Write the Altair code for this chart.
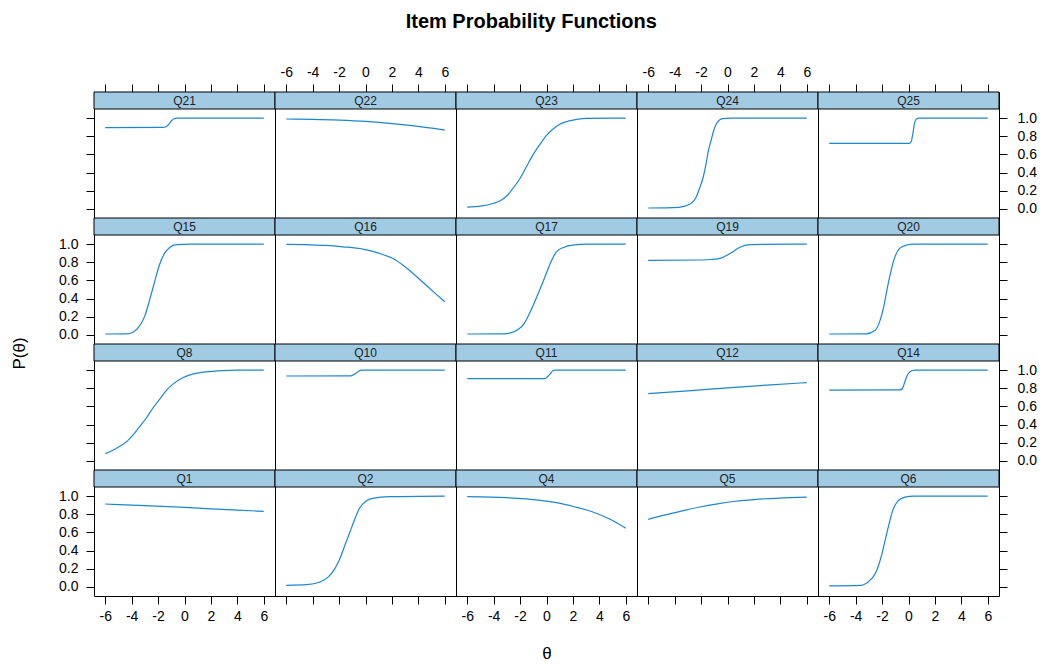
import altair as alt
import pandas as pd

# ---------------- data ----------------
theta_ticks = [-6, -4, -2, 0, 2, 4, 6]
prob_ticks = [0.0, 0.2, 0.4, 0.6, 0.8, 1.0]

panel_rows = [
    ["Q21", "Q22", "Q23", "Q24", "Q25"],
    ["Q15", "Q16", "Q17", "Q19", "Q20"],
    ["Q8", "Q10", "Q11", "Q12", "Q14"],
    ["Q1", "Q2", "Q4", "Q5", "Q6"],
]

Q21_theta = [-6, -1.6, -1.4, -1.2, -1.0, -0.8, -0.6, 6]
Q21_p = [0.895, 0.897, 0.905, 0.928, 0.968, 0.993, 1.0, 1.0]

Q22_theta = [-6, -4, -2, 0, 1, 2, 3, 4, 5, 6]
Q22_p = [0.99, 0.986, 0.978, 0.964, 0.953, 0.94, 0.925, 0.908, 0.89, 0.868]

Q23_theta = [-6, -5, -4, -3.5, -3, -2.5, -2, -1.5, -1, -0.5, 0, 0.5, 1, 1.5, 2, 3, 6]
Q23_p = [0.02, 0.03, 0.062, 0.09, 0.145, 0.233, 0.337, 0.47, 0.6, 0.71, 0.81, 0.88,
         0.932, 0.96, 0.978, 0.996, 1.0]

Q24_theta = [-6, -3.7, -2.9, -2.4, -2.1, -1.85, -1.63, -1.45, -1.25, -1.05, -0.78, -0.37, 0.3, 6]
Q24_p = [0.01, 0.018, 0.048, 0.12, 0.232, 0.343, 0.49, 0.638, 0.749, 0.86, 0.952, 0.995, 1.0, 1.0]

Q25_theta = [-6, 0.05, 0.2, 0.32, 0.45, 0.6, 0.8, 6]
Q25_p = [0.722, 0.722, 0.74, 0.82, 0.94, 0.99, 1.0, 1.0]

Q15_theta = [-6, -4.4, -3.9, -3.4, -3.0, -2.65, -2.27, -1.9, -1.5, -1.1, -0.6, 0.4, 6]
Q15_p = [0.01, 0.012, 0.03, 0.1, 0.21, 0.38, 0.58, 0.77, 0.9, 0.965, 0.995, 1.0, 1.0]

Q16_theta = [-6, -4.5, -3, -1.7, -0.2, 1, 2.3, 3.3, 4.3, 5.3, 6]
Q16_p = [0.998, 0.993, 0.985, 0.97, 0.945, 0.9, 0.823, 0.715, 0.585, 0.455, 0.365]

Q17_theta = [-6, -3.2, -2.65, -2.1, -1.7, -1.3, -0.9, -0.47, -0.07, 0.34, 0.75, 1.3, 1.83, 3.2, 6]
Q17_p = [0.01, 0.012, 0.025, 0.066, 0.122, 0.232, 0.362, 0.51, 0.657, 0.805, 0.915,
         0.963, 0.985, 1.0, 1.0]

Q19_theta = [-6, -2, -1.2, -0.5, 0, 0.35, 0.9, 1.7, 6]
Q19_p = [0.82, 0.825, 0.83, 0.845, 0.88, 0.91, 0.963, 0.995, 1.0]

Q20_theta = [-6, -3.2, -2.55, -2.15, -1.88, -1.61, -1.34, -1.07, -0.67, -0.13, 0.4, 6]
Q20_p = [0.01, 0.012, 0.048, 0.16, 0.306, 0.51, 0.694, 0.842, 0.952, 0.99, 1.0, 1.0]

Q8_theta = [-6, -5.2, -4.4, -3.9, -3.4, -2.9, -2.4, -1.9, -1.4, -0.9, -0.1, 0.6, 1.6, 2.9, 4, 6]
Q8_p = [0.08, 0.135, 0.21, 0.285, 0.377, 0.47, 0.58, 0.675, 0.77, 0.843, 0.918, 0.955,
        0.98, 0.995, 1.0, 1.0]

Q10_theta = [-6, -1.1, -0.9, -0.7, -0.5, -0.3, 6]
Q10_p = [0.935, 0.937, 0.95, 0.967, 0.99, 1.0, 1.0]

Q11_theta = [-6, -0.1, 0.1, 0.3, 0.5, 0.7, 6]
Q11_p = [0.905, 0.907, 0.93, 0.96, 0.995, 1.0, 1.0]

Q12_theta = [-6, -3, 0, 3, 6]
Q12_p = [0.74, 0.772, 0.805, 0.835, 0.862]

Q14_theta = [-6, -0.65, -0.45, -0.3, -0.1, 0.1, 0.3, 0.5, 6]
Q14_p = [0.78, 0.782, 0.8, 0.86, 0.94, 0.98, 0.995, 1.0, 1.0]

Q1_theta = [-6, -3, 0, 2, 4, 6]
Q1_p = [0.913, 0.895, 0.876, 0.86, 0.845, 0.832]

Q2_theta = [-6, -4.45, -3.45, -2.83, -2.33, -1.95, -1.58, -1.2, -0.83, -0.45, 0.05, 0.55, 1.8, 6]
Q2_p = [0.018, 0.025, 0.054, 0.108, 0.199, 0.307, 0.451, 0.596, 0.74, 0.866, 0.946,
        0.975, 0.993, 1.0]

Q4_theta = [-6, -3, -0.6, 0.75, 2.1, 3.46, 4.82, 6]
Q4_p = [0.993, 0.982, 0.956, 0.927, 0.883, 0.828, 0.744, 0.645]

Q5_theta = [-6, -4.8, -3.5, -2.1, -0.75, 0.6, 2, 3.9, 6]
Q5_p = [0.744, 0.79, 0.835, 0.88, 0.915, 0.943, 0.962, 0.977, 0.988]

Q6_theta = [-6, -3.6, -2.96, -2.55, -2.28, -2.02, -1.75, -1.48, -1.21, -0.81, -0.27, 0.4, 6]
Q6_p = [0.011, 0.018, 0.066, 0.139, 0.231, 0.359, 0.524, 0.689, 0.835, 0.945, 0.989, 1.0, 1.0]

item_theta = {
    "Q21": Q21_theta, "Q22": Q22_theta, "Q23": Q23_theta, "Q24": Q24_theta, "Q25": Q25_theta,
    "Q15": Q15_theta, "Q16": Q16_theta, "Q17": Q17_theta, "Q19": Q19_theta, "Q20": Q20_theta,
    "Q8": Q8_theta, "Q10": Q10_theta, "Q11": Q11_theta, "Q12": Q12_theta, "Q14": Q14_theta,
    "Q1": Q1_theta, "Q2": Q2_theta, "Q4": Q4_theta, "Q5": Q5_theta, "Q6": Q6_theta,
}
item_p = {
    "Q21": Q21_p, "Q22": Q22_p, "Q23": Q23_p, "Q24": Q24_p, "Q25": Q25_p,
    "Q15": Q15_p, "Q16": Q16_p, "Q17": Q17_p, "Q19": Q19_p, "Q20": Q20_p,
    "Q8": Q8_p, "Q10": Q10_p, "Q11": Q11_p, "Q12": Q12_p, "Q14": Q14_p,
    "Q1": Q1_p, "Q2": Q2_p, "Q4": Q4_p, "Q5": Q5_p, "Q6": Q6_p,
}

# ---------------- styling ----------------
W, H, STRIP = 181, 126, 17
LINE_COLOR = "#1b87d0"
STRIP_COLOR = "#a0cbe2"
FONT = "Liberation Sans"

xscale = alt.Scale(domain=[-6.85, 6.85], nice=False, zero=False)
yscale = alt.Scale(domain=[-0.1, 1.1], range=[H, STRIP], nice=False, zero=False)

tick_common = dict(tickSize=8, tickColor="black", tickWidth=1, domain=False, grid=False,
                   labelFontSize=14, labelFont=FONT, labelColor="black",
                   labelOverlap=False, labelFlush=False)


def x_axis(r, c):
    if r == 0:
        return alt.Axis(orient="top", values=theta_ticks, labels=(c in (1, 3)), title=None,
                        labelPadding=5, labelExpr="'' + datum.value", **tick_common)
    if r == 3:
        if c == 2:
            extra = dict(title="θ", titleFont=FONT, titleFontSize=17, titleFontWeight="normal",
                         titleColor="black", titleY=57, titleBaseline="middle")
        else:
            extra = dict(title=None)
        return alt.Axis(orient="bottom", values=theta_ticks, labels=(c in (0, 2, 4)),
                        labelPadding=5, labelExpr="'' + datum.value", **extra, **tick_common)
    return None


def y_axis(r, c):
    if c == 0:
        extra = dict(title=None)
        if r == 2:
            extra = dict(title="P(θ)", titleFont=FONT, titleFontSize=17, titleFontWeight="normal",
                         titleColor="black", titleX=-75, titleY=9, titleBaseline="middle",
                         titleAlign="center")
        return alt.Axis(orient="left", values=prob_ticks, labels=(r in (1, 3)), format=".1f",
                        labelPadding=8, **extra, **tick_common)
    if c == 4:
        return alt.Axis(orient="right", values=prob_ticks, labels=(r in (0, 2)), format=".1f",
                        labelPadding=10, title=None, **tick_common)
    return None


panels = []
for r, row in enumerate(panel_rows):
    for c, item in enumerate(row):
        df = pd.DataFrame({"theta": item_theta[item], "p": item_p[item]})
        lab = pd.DataFrame({"label": [item]})
        line = alt.Chart(df).mark_line(color=LINE_COLOR, strokeWidth=1.2, interpolate="monotone").encode(
            x=alt.X("theta:Q", scale=xscale, axis=x_axis(r, c)),
            y=alt.Y("p:Q", scale=yscale, axis=y_axis(r, c)),
        )
        strip = alt.Chart(lab).mark_rect(fill=STRIP_COLOR, stroke="black", strokeWidth=1).encode(
            x=alt.value(0), x2=alt.value(W), y=alt.value(0), y2=alt.value(STRIP)
        )
        txt = alt.Chart(lab).mark_text(font=FONT, fontSize=12, color="#222222", baseline="middle").encode(
            x=alt.value(W / 2), y=alt.value(STRIP / 2 + 0.5), text="label:N"
        )
        panels.append(alt.layer(line, strip, txt).properties(width=W, height=H))

chart = alt.concat(
    *panels, columns=5, spacing=0, bounds="flush",
    title=alt.TitleParams("Item Probability Functions", font=FONT, fontSize=20,
                          fontWeight="bold", color="black", anchor="middle", offset=33, dx=8),
).resolve_scale(x="independent", y="independent").properties(
    background="white",
    padding={"left": 1, "top": 3, "right": 5, "bottom": 5},
).configure_view(
    stroke="black", strokeWidth=1
)

chart.save("out.html", embed_options={"renderer": "svg", "actions": False})
